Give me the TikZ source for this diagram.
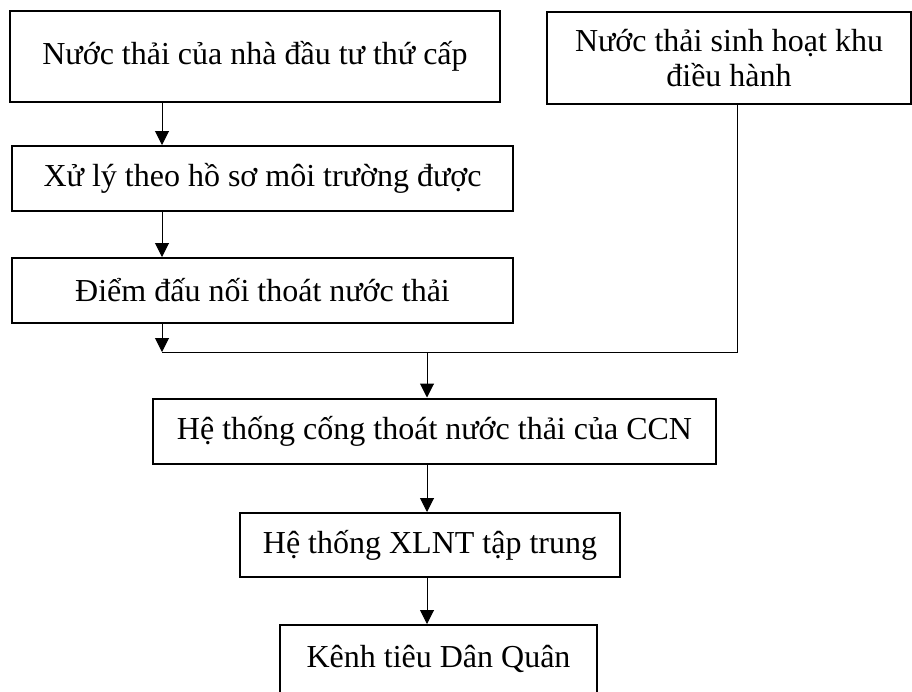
\documentclass[tikz,border=0pt]{standalone}
\usepackage{fontspec}
\setmainfont{Liberation Serif}
\usetikzlibrary{arrows.meta,calc}

\tikzset{
  hopso/.style={draw, line width=2pt, rectangle, align=center, inner sep=0pt,
    font=\fontsize{32}{35}\selectfont},
  duong/.style={line width=1pt},
  chay/.style={duong, -{Triangle[width=14pt,length=14pt]}}
}

\begin{document}
\begin{tikzpicture}[x=1pt,y=-1pt]
  \useasboundingbox (0,0) rectangle (912,691);
  \node[hopso, minimum width=490pt, minimum height=91pt] (nguon) at (255,56.5) {Nước thải của nhà đầu tư thứ cấp};
  \node[hopso, minimum width=364pt, minimum height=92pt] (dieuhanh) at (729,58) {Nước thải sinh hoạt khu\\điều hành};
  \node[hopso, minimum width=501pt, minimum height=65pt] (xuly) at (262.5,178.5) {Xử lý theo hồ sơ môi trường được};
  \node[hopso, minimum width=501pt, minimum height=65pt] (daunoi) at (262.5,290.5) {Điểm đấu nối thoát nước thải};
  \node[hopso, minimum width=563pt, minimum height=65pt] (cong) at (434.5,431) {Hệ thống cống thoát nước thải của CCN};
  \node[hopso, minimum width=380pt, minimum height=64pt] (xlnt) at (430,545) {Hệ thống XLNT tập trung};
  \node[hopso, minimum width=317pt, minimum height=68pt] (kenh) at (438.5,659) {Kênh tiêu Dân Quân};
  \coordinate (gtrai) at (162,352);
  \coordinate (gphai) at (737,352);
  \coordinate (ggiua) at (427,352);
  \draw[chay] (nguon.south -| gtrai) -- (xuly.north -| gtrai);
  \draw[chay] (xuly.south -| gtrai) -- (daunoi.north -| gtrai);
  \draw[chay] (daunoi.south -| gtrai) -- (gtrai);
  \draw[duong] (dieuhanh.south -| gphai) -- (gphai) -- (gtrai);
  \draw[chay] (ggiua) -- (cong.north -| ggiua);
  \draw[chay] (cong.south -| ggiua) -- (xlnt.north -| ggiua);
  \draw[chay] (xlnt.south -| ggiua) -- (kenh.north -| ggiua);
\end{tikzpicture}
\end{document}
